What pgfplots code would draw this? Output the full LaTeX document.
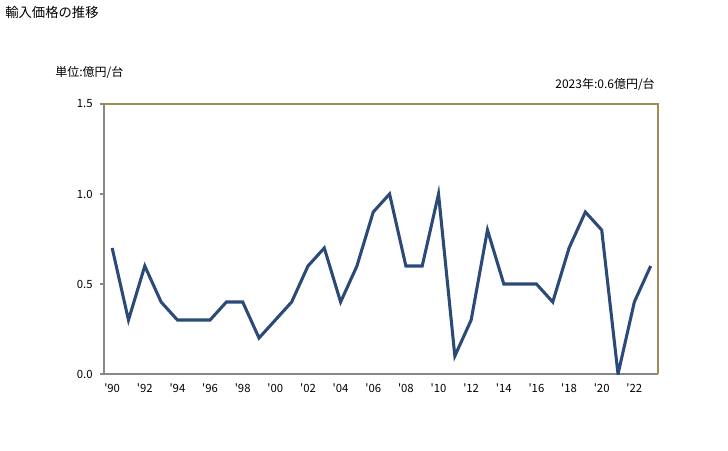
\documentclass[border=0pt]{standalone}
\usepackage{fontspec}
\setmainfont{Noto Sans CJK JP}
\usepackage{pgfplots}
\pgfplotsset{compat=1.18}
\definecolor{linecol}{HTML}{2B4A78}
\definecolor{boxcol}{HTML}{9C8F4F}
\definecolor{axcol}{HTML}{888888}
\newcommand{\q}{\textquotesingle}

\begin{document}
\begin{tikzpicture}
% page frame: 728x450 px at 0.75pt/px, axis origin at px (104,374)
\path (-78pt,-57pt) rectangle (468pt,280.5pt);
\begin{axis}[
    at={(0pt,0pt)}, anchor=south west,
    scale only axis,
    width=415.5pt, height=202.5pt,
    xmin=1989.5, xmax=2023.45,
    ymin=0, ymax=1.5,
    axis lines*=left,
    axis line style={axcol, line width=0.8pt},
    xtick={1990,1992,...,2022},
    xticklabels={\q90,\q92,\q94,\q96,\q98,\q00,\q02,\q04,\q06,\q08,\q10,\q12,\q14,\q16,\q18,\q20,\q22},
    ytick={0,0.5,1,1.5},
    yticklabel style={/pgf/number format/.cd,fixed,fixed zerofill,precision=1},
    /pgf/number format/assume math mode=true,
    tick label style={font=\fontsize{8.5}{10}\selectfont, text=black},
    x tick style={draw=none},
    y tick style={axcol, line width=0.8pt},
    tick align=outside,
    major tick length=3pt,
    xticklabel shift=1pt,
    yticklabel shift=2pt,
]
\addplot[linecol, line width=2.3pt, line join=miter, mark=none] coordinates {
(1990,0.7) (1991,0.3) (1992,0.6) (1993,0.4) (1994,0.3) (1995,0.3)
(1996,0.3) (1997,0.4) (1998,0.4) (1999,0.2) (2000,0.3) (2001,0.4)
(2002,0.6) (2003,0.7) (2004,0.4) (2005,0.6) (2006,0.9) (2007,1.0)
(2008,0.6) (2009,0.6) (2010,1.0) (2011,0.1) (2012,0.3) (2013,0.8)
(2014,0.5) (2015,0.5) (2016,0.5) (2017,0.4) (2018,0.7) (2019,0.9)
(2020,0.8) (2021,0.0) (2022,0.4) (2023,0.6)
};
\end{axis}
\draw[boxcol, line width=0.8pt] (0pt,202.5pt) -- (415.5pt,202.5pt) -- (415.5pt,0pt);
\node[anchor=west, font=\fontsize{10}{12}\selectfont, inner sep=0pt] at (-74.25pt,271.5pt) {輸入価格の推移};
\node[anchor=west, font=\fontsize{9}{11}\selectfont, inner sep=0pt] at (-36.75pt,225.75pt) {単位:億円/台};
\node[anchor=east, font=\fontsize{9}{11}\selectfont, inner sep=0pt] at (413.25pt,216.75pt) {2023年:0.6億円/台};
\end{tikzpicture}
\end{document}
